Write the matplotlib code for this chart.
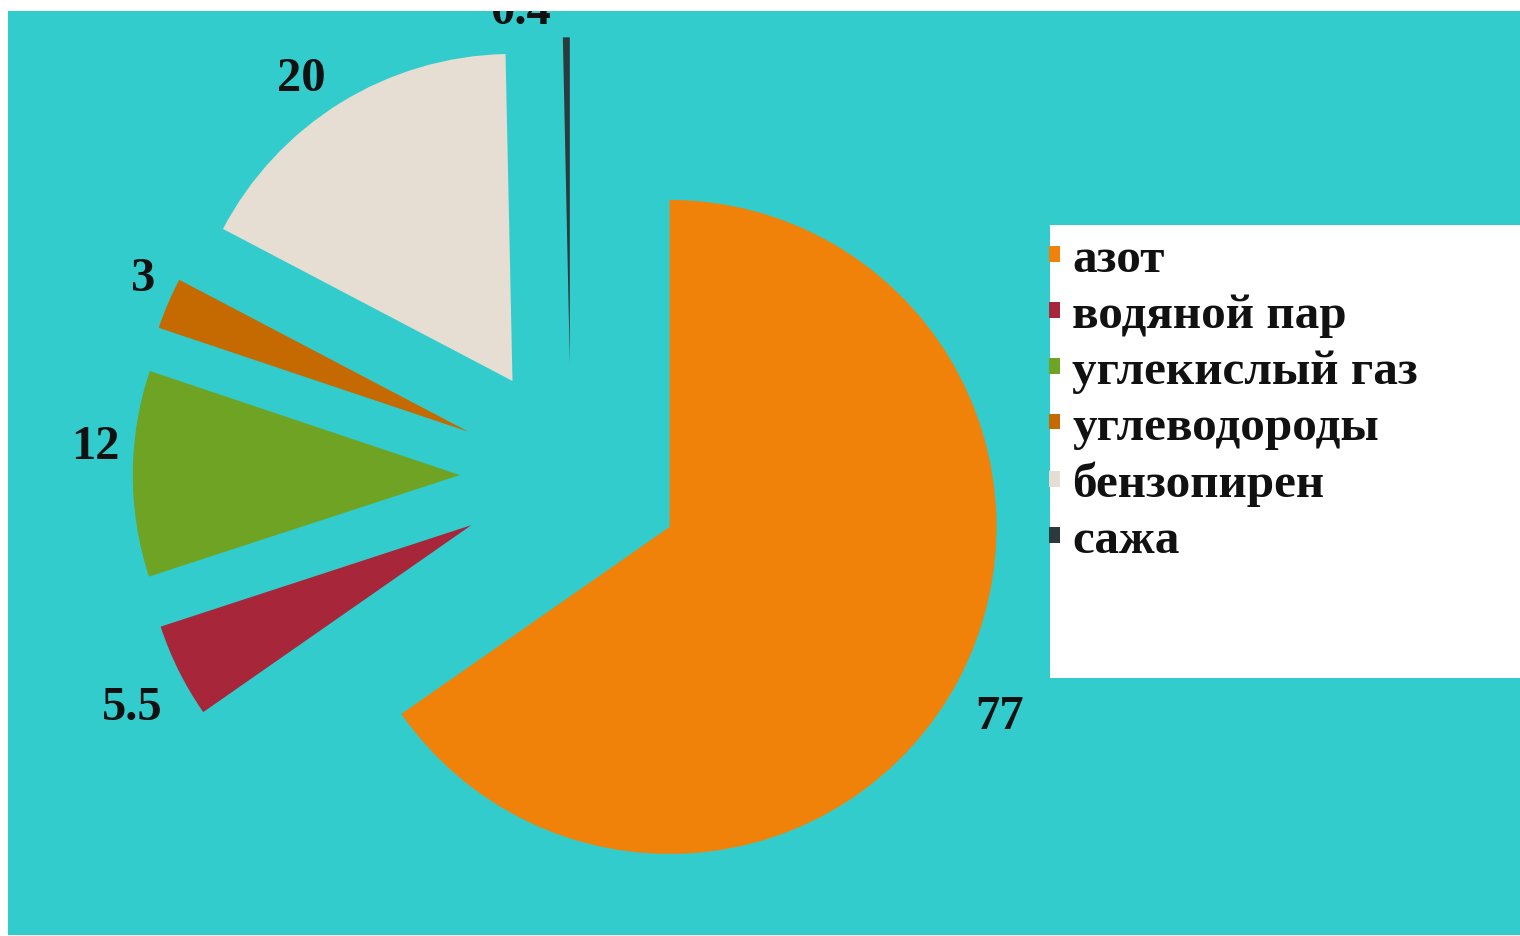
import math
import matplotlib
matplotlib.use("Agg")
import matplotlib.pyplot as plt
from matplotlib.patches import Rectangle

# ---- data ----
categories = ["азот", "водяной пар", "углекислый газ", "углеводороды", "бензопирен", "сажа"]
values = [77, 5.5, 12, 3, 20, 0.4]
colors = ["#F0820A", "#A8263A", "#6EA324", "#C46A00", "#E6DED3", "#2B3A3C"]

# label layout (radius in pie radii from the pie centre, angular nudge in degrees)
label_radius = [1.498, 1.512, 1.459, 1.445, 1.475, 1.438]
label_nudge = [-1.4, 1.0, -3.7, -2.0, 2.2, 5.6]

TEAL = "#33CCCC"
W, H = 1520, 936
fig = plt.figure(figsize=(W / 100, H / 100), dpi=100, facecolor="white")

# axes occupying the teal area
ax_l, ax_t, ax_r, ax_b = 8, 11, 1520, 935
ax = fig.add_axes([ax_l / W, (H - ax_b) / H, (ax_r - ax_l) / W, (ax_b - ax_t) / H])
ax.set_facecolor(TEAL)

total = sum(values)

def fmt(p):
    v = round(p * total / 100.0, 1)
    return f"{v:g}"

R = 327.0
wedges, texts, autotexts = ax.pie(
    values, colors=colors, startangle=90, counterclock=False,
    explode=[0.34] * len(values), autopct=fmt, pctdistance=1.12,
    radius=1.0, frame=True,
    wedgeprops=dict(linewidth=0),
    textprops=dict(fontsize=35, fontweight="bold", family="Liberation Serif", color="#111111"),
)
label_dy = -4.0 / R
for w, t, lr, dth in zip(wedges, autotexts, label_radius, label_nudge):
    mid = math.radians((w.theta1 + w.theta2) / 2.0 + dth)
    t.set_position((lr * math.cos(mid), lr * math.sin(mid) + label_dy))
    t.set_clip_box(ax.bbox)
    t.set_clip_on(True)

# scale: 1 data unit = 327 px; pie centre at pixel (571, 475.5)
cx, cy = 571.0, 475.5
aw, ah = ax_r - ax_l, ax_b - ax_t
ax.set_xlim(-(cx - ax_l) / R, (aw - (cx - ax_l)) / R)
ax.set_ylim(-(ah - (cy - ax_t)) / R, (cy - ax_t) / R)
ax.set_aspect("auto")
for s in ax.spines.values():
    s.set_visible(False)
ax.set_xticks([])
ax.set_yticks([])

# white legend panel
fig.add_artist(Rectangle((1050 / W, (H - 678) / H), (W - 1050) / W, (678 - 225) / H,
                         transform=fig.transFigure, facecolor="white", edgecolor="none", zorder=5))

leg = fig.legend(wedges, categories, loc="upper left",
                 bbox_to_anchor=(1049 / W, 1 - 238 / H), bbox_transform=fig.transFigure,
                 frameon=False, borderpad=0, borderaxespad=0,
                 handlelength=0.22, handleheight=0.12, handletextpad=0.25,
                 labelspacing=0.24,
                 prop=dict(family="Liberation Serif", weight="bold", size=35.5))
leg.set_zorder(6)
for t in leg.get_texts():
    t.set_color("#111111")

fig.savefig("out.png", dpi=100, facecolor="white")
